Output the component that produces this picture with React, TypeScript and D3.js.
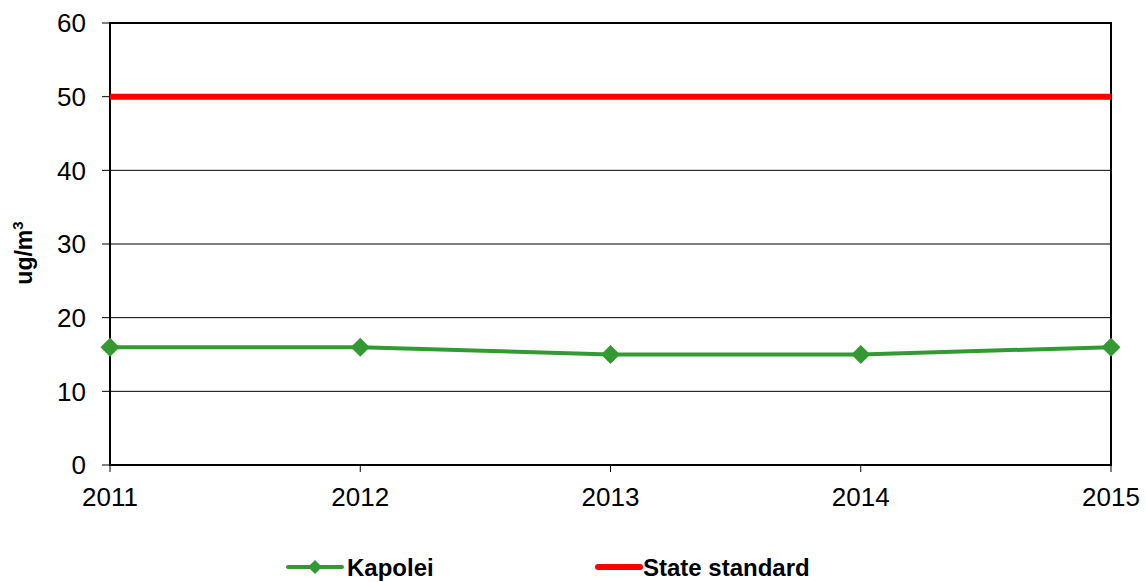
import React from "react";
import * as d3 from "d3";

const years = ["2011", "2012", "2013", "2014", "2015"];
const kapolei = [16, 16, 15, 15, 16];
const stateStandard = [50, 50, 50, 50, 50];
const yTicks = [0, 10, 20, 30, 40, 50, 60];

const W = 1146, H = 582;
const L = 110, R = 1111, T = 23, B = 465;
const GREEN = "#339933";
const RED = "#ff0000";
const FONT = "Arial, 'Liberation Sans', sans-serif";

export default function App() {
  const x = d3.scalePoint<string>().domain(years).range([L, R]);
  const y = d3.scaleLinear().domain([0, 60]).range([B, T]);
  const line = d3.line<number>().x((_, i) => x(years[i])!).y((d) => y(d));
  const diamond = (cx: number, cy: number, r: number) =>
    `M${cx},${cy - r}L${cx + r},${cy}L${cx},${cy + r}L${cx - r},${cy}Z`;

  return (
    <svg width={W} height={H} style={{ position: "absolute", left: 0, top: 0, background: "#fff" }} fontFamily={FONT}>
      <rect x={0} y={0} width={W} height={H} fill="#fff" />
      {yTicks.map((t) => (
        <g key={t}>
          {t > 0 && t < 60 && <line x1={L} x2={R} y1={y(t)} y2={y(t)} stroke="#000" strokeWidth={1} />}
          <line x1={L - 8} x2={L} y1={y(t)} y2={y(t)} stroke="#000" strokeWidth={1} />
          <text x={86} y={y(t)} dy="0.36em" textAnchor="end" fontSize={26} fill="#000">{t}</text>
        </g>
      ))}
      {years.map((yr) => (
        <g key={yr}>
          <line x1={x(yr)!} x2={x(yr)!} y1={B} y2={B + 7} stroke="#000" strokeWidth={1} />
          <text x={x(yr)!} y={506} textAnchor="middle" fontSize={26} fill="#000">{yr}</text>
        </g>
      ))}
      <rect x={L} y={T} width={R - L} height={B - T} fill="none" stroke="#000" strokeWidth={2} />
      <path d={line(stateStandard)!} fill="none" stroke={RED} strokeWidth={6} />
      <path d={line(kapolei)!} fill="none" stroke={GREEN} strokeWidth={4} />
      {kapolei.map((v, i) => (
        <path key={i} d={diamond(x(years[i])!, y(v), 9.5)} fill={GREEN} />
      ))}
      <text transform={`translate(32,253) rotate(-90)`} textAnchor="middle" fontSize={23} fontWeight="bold" fill="#000">
        ug/m<tspan fontSize={15} dy={-9}>3</tspan>
      </text>
      <line x1={288} x2={342} y1={567} y2={567} stroke={GREEN} strokeWidth={4} strokeLinecap="round" />
      <path d={diamond(315, 567, 7)} fill={GREEN} />
      <text x={347} y={567} dy="0.36em" fontSize={24} fontWeight="bold" fill="#000">Kapolei</text>
      <line x1={598} x2={640} y1={567} y2={567} stroke={RED} strokeWidth={6} strokeLinecap="round" />
      <text x={643} y={567} dy="0.36em" fontSize={24} fontWeight="bold" fill="#000">State standard</text>
    </svg>
  );
}
